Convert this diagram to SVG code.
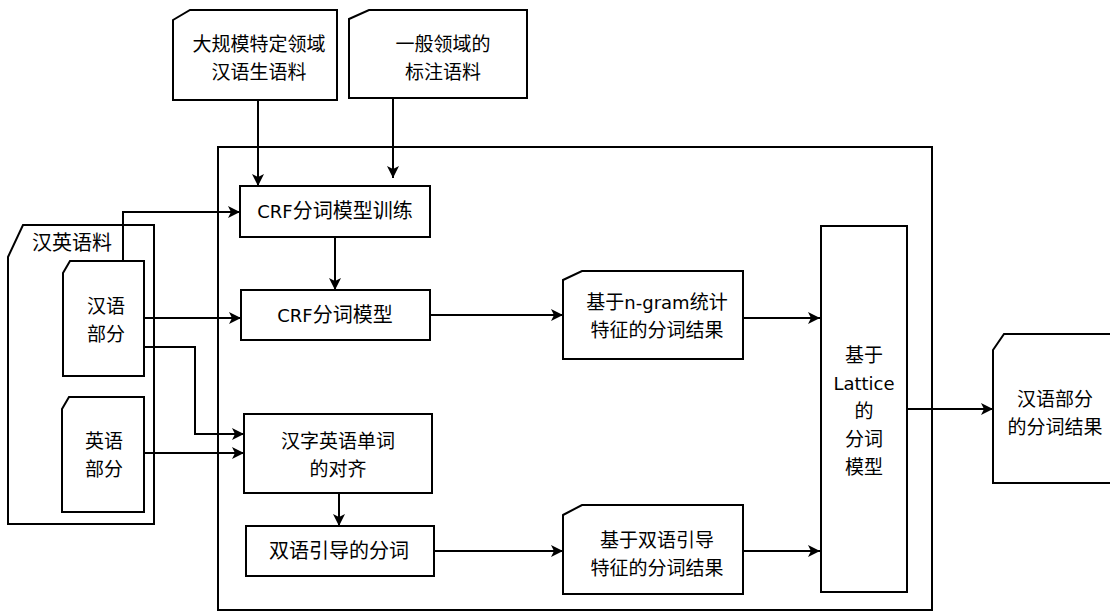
<svg xmlns="http://www.w3.org/2000/svg" width="1110" height="612" viewBox="0 0 1110 612">
<style>
.n{fill:#fff;stroke:#000;stroke-width:2}
.c{fill:none;stroke:#000;stroke-width:2;marker-end:url(#a)}
text{font-family:"Noto Sans CJK SC","DejaVu Sans",sans-serif;font-size:19px;fill:#000;text-anchor:middle}
.l{font-family:"DejaVu Sans","Noto Sans CJK SC",sans-serif;font-size:18px}
</style>
<defs>
<marker id="a" markerUnits="userSpaceOnUse" markerWidth="13" markerHeight="12" refX="12" refY="6" orient="auto">
<path d="M0,0 L12,6 L0,12 L3,6 Z" fill="#000"/>
</marker>
</defs>
<rect width="1110" height="612" fill="#fff"/>
<g id="main-frame"><rect class="n" x="218" y="147" width="714" height="463"/></g>
<g id="corpus-frame"><path class="n" d="M8,257 L23,225 H154 V524 H8 Z"/><text x="32" y="250" style="text-anchor:start;font-size:20px">汉英语料</text></g>
<g id="n-large"><path class="n" d="M173,20 L190,10 H337 V100 H173 Z"/><text x="259" y="51">大规模特定领域</text><text x="259" y="79">汉语生语料</text></g>
<g id="n-general"><path class="n" d="M349,19 L369,10 H527 V98 H349 Z"/><text x="443" y="51">一般领域的</text><text x="443" y="79">标注语料</text></g>
<g id="n-zh"><path class="n" d="M63,273 L70,261 H144 V376 H63 Z"/><text x="106" y="313">汉语</text><text x="106" y="341">部分</text></g>
<g id="n-en"><path class="n" d="M62,409 L69,397 H144 V512 H62 Z"/><text x="104" y="448">英语</text><text x="104" y="476">部分</text></g>
<g id="n-train"><rect class="n" x="240" y="186" width="190" height="51"/><text x="335" y="218" style="font-size:20px"><tspan class="l">CRF</tspan>分词模型训练</text></g>
<g id="n-crf"><rect class="n" x="241" y="290" width="189" height="50"/><text x="335" y="322" style="font-size:20px"><tspan class="l">CRF</tspan>分词模型</text></g>
<g id="n-align"><rect class="n" x="244" y="414" width="188" height="79"/><text x="338" y="448">汉字英语单词</text><text x="338" y="476">的对齐</text></g>
<g id="n-bi"><rect class="n" x="246" y="526" width="188" height="50"/><text x="339" y="558" style="font-size:20px">双语引导的分词</text></g>
<g id="n-ngram"><path class="n" d="M563,280 L582,271 H743 V359 H563 Z"/><text x="657" y="309">基于<tspan class="l">n-gram</tspan>统计</text><text x="657" y="337">特征的分词结果</text></g>
<g id="n-biresult"><path class="n" d="M563,515 L582,505 H743 V594 H563 Z"/><text x="657" y="547">基于双语引导</text><text x="657" y="575">特征的分词结果</text></g>
<g id="n-lattice"><rect class="n" x="821" y="226" width="86" height="366"/><text x="864" y="362">基于</text><text x="864" y="390" class="l">Lattice</text><text x="864" y="418">的</text><text x="864" y="446">分词</text><text x="864" y="474">模型</text></g>
<g id="n-result"><path class="n" d="M993,350 L1004,334 H1120 V483 H993 Z"/><text x="1055" y="406">汉语部分</text><text x="1055" y="434">的分词结果</text></g>
<g id="connectors">
<path class="c" d="M258,100 V186"/>
<path class="c" d="M393,98 V178"/>
<path class="c" d="M123,261 V212 H240"/>
<path class="c" d="M144,318 H241"/>
<path class="c" d="M144,347 H195 V434 H244"/>
<path class="c" d="M144,453 H244"/>
<path class="c" d="M335,237 V290"/>
<path class="c" d="M339,493 V526"/>
<path class="c" d="M430,315 H563"/>
<path class="c" d="M434,551 H563"/>
<path class="c" d="M743,318 H820"/>
<path class="c" d="M743,551 H820"/>
<path class="c" d="M907,409 H993"/>
</g>
</svg>
